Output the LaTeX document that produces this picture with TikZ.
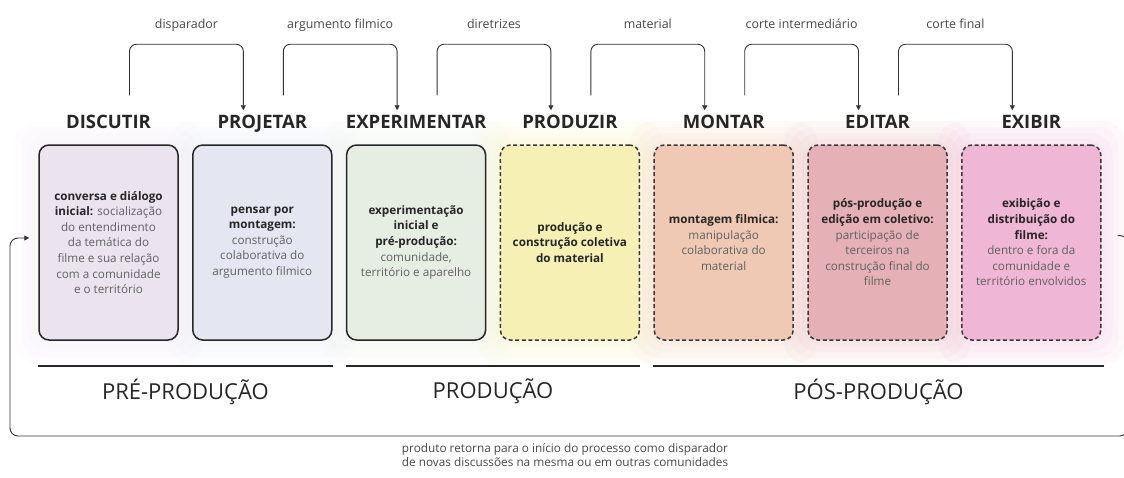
\documentclass[tikz,border=0pt]{standalone}
\usepackage{fontspec}
\setmainfont{Open Sans}
\usetikzlibrary{calc,arrows.meta,positioning}
\definecolor{corDiscutir}{HTML}{EBE4EF}
\definecolor{corProjetar}{HTML}{E4E7F1}
\definecolor{corExperimentar}{HTML}{E6EEE4}
\definecolor{corProduzir}{HTML}{F7F0B4}
\definecolor{corMontar}{HTML}{F0C9B4}
\definecolor{corEditar}{HTML}{E5B1B6}
\definecolor{corExibir}{HTML}{EFB6D5}
\newcommand{\forte}[1]{\textbf{\color{black!85}#1}}
\tikzset{
  caixa/.style={draw=black!85, line width=1.5pt, rounded corners=10pt,
    minimum width=139pt, minimum height=195pt, inner sep=0pt,
    align=center, text=black!62, font=\fontsize{11.7}{15.6}\selectfont},
  caixatrac/.style={caixa, draw=black!78, dash pattern=on 4pt off 2.6pt},
  titulo/.style={font=\fontsize{18.5}{22}\selectfont\bfseries, text=black!85, anchor=base},
  rotulo/.style={font=\fontsize{12.4}{14}\selectfont, text=black!72},
  fase/.style={font=\fontsize{22}{26}\selectfont, text=black!85},
  seta/.style={draw=black!80, line width=0.9pt, rounded corners=7pt,
    -{Triangle[length=5pt,width=5pt]}},
  linha/.style={draw=black!85, line width=2pt}
}
\begin{document}
\begin{tikzpicture}[x=1pt,y=-1pt]
  \useasboundingbox (0,0) rectangle (1124,477);

  % brilho suave atras das etapas
  \foreach \x/\cor in {108.5/corDiscutir, 262.3/corProjetar, 416.1/corExperimentar,
      569.9/corProduzir, 723.7/corMontar, 877.5/corEditar, 1031.3/corExibir}
    \foreach \d in {6,12,18,24}
      \fill[\cor, opacity=0.09, rounded corners=22pt]
        ({\x-69.5-\d},{145-\d}) rectangle ({\x+69.5+\d},{340+\d});

  % etapas
  \node[caixa, fill=corDiscutir] (c1) at (108.5,242.5)
    {\forte{conversa e diálogo}\\ \forte{inicial:} socialização\\ do entendimento\\ da temática do\\ filme e sua relação\\ com a comunidade\\ e o território};
  \node[caixa, fill=corProjetar] (c2) at (262.3,242.5)
    {\forte{pensar por}\\ \forte{montagem:}\\ construção\\ colaborativa do\\ argumento filmico};
  \node[caixa, fill=corExperimentar] (c3) at (416.1,242.5)
    {\forte{experimentação}\\ \forte{inicial e}\\ \forte{pré-produção:}\\ comunidade,\\ território e aparelho};
  \node[caixatrac, fill=corProduzir] (c4) at (569.9,242.5)
    {\forte{produção e}\\ \forte{construção coletiva}\\ \forte{do material}};
  \node[caixatrac, fill=corMontar] (c5) at (723.7,242.5)
    {\forte{montagem filmica:}\\ manipulação\\ colaborativa do\\ material};
  \node[caixatrac, fill=corEditar] (c6) at (877.5,242.5)
    {\forte{pós-produção e}\\ \forte{edição em coletivo:}\\ participação de\\ terceiros na\\ construção final do\\ filme};
  \node[caixatrac, fill=corExibir] (c7) at (1031.3,242.5)
    {\forte{exibição e}\\ \forte{distribuição do}\\ \forte{filme:}\\ dentro e fora da\\ comunidade e\\ território envolvidos};

  % titulos
  \node[titulo] (t1) at (108.5,128) {DISCUTIR};
  \node[titulo] (t2) at (262.3,128) {PROJETAR};
  \node[titulo] (t3) at (416.1,128) {EXPERIMENTAR};
  \node[titulo] (t4) at (569.9,128) {PRODUZIR};
  \node[titulo] (t5) at (723.7,128) {MONTAR};
  \node[titulo] (t6) at (877.5,128) {EDITAR};
  \node[titulo] (t7) at (1031.3,128) {EXIBIR};

  % passagens entre etapas
  \foreach \a/\b/\lab in {1/2/disparador, 2/3/argumento filmico, 3/4/diretrizes,
      4/5/material, 5/6/corte intermediário, 6/7/corte final}
    \draw[seta] ($(c\a.north)+(21,-49)$) -- ++(0,-51)
      -| node[rotulo, pos=0.25, anchor=base, yshift=16pt] {\lab} ($(c\b.north)+(-19,-34)$);

  % fases
  \draw[linha] ($(c1.south west)+(0,25)$) -- ($(c2.south east)+(0,25)$)
    node[fase, midway, yshift=-26pt] (f1) {PRÉ-PRODUÇÃO};
  \draw[linha] ($(c3.south west)+(0,25)$) -- ($(c4.south east)+(0,25)$)
    node[fase, midway, yshift=-26pt] (f2) {PRODUÇÃO};
  \draw[linha] ($(c5.south west)+(0,25)$) -- ($(c7.south east)+(2,25)$)
    node[fase, midway, yshift=-26pt] (f3) {PÓS-PRODUÇÃO};

  % retorno
  \coordinate (ret) at ($(c7.east)+(16,-7)$);
  \coordinate (volta) at ($(c1.west)+(-9,-4.5)$);
  \draw[seta, rounded corners=8pt] (ret) -- ++(10,0) |- (10,436) |- (volta);
  \node[rotulo, font=\fontsize{11.8}{13.2}\selectfont, align=center] (nota) at (565,455)
    {produto retorna para o início do processo como disparador\\ de novas discussões na mesma ou em outras comunidades};
\end{tikzpicture}
\end{document}
